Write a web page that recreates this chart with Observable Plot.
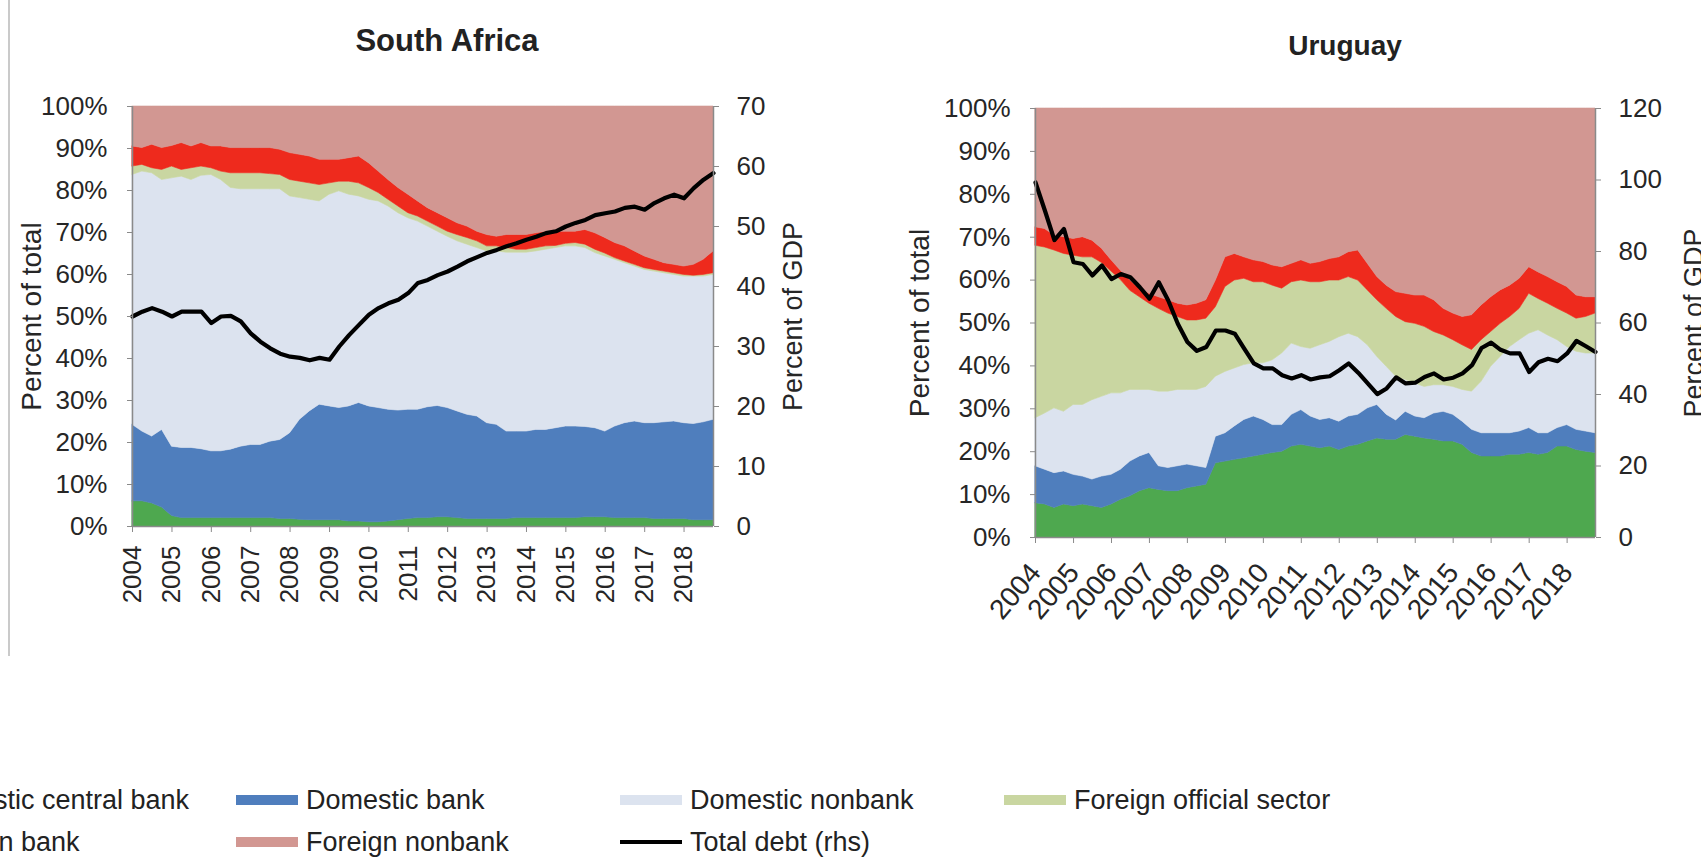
<!DOCTYPE html>
<html>
<head>
<meta charset="utf-8">
<script src="https://cdn.jsdelivr.net/npm/d3@7"></script>
<script src="https://cdn.jsdelivr.net/npm/@observablehq/plot@0.6"></script>
<style>
  html, body { margin: 0; padding: 0; background: #fff; }
  body {
    width: 1701px; height: 858px; overflow: hidden; position: relative;
    font-family: "Liberation Sans", Arial, sans-serif; color: #262626;
  }
  .panel { position: absolute; top: 0; height: 660px; }
  .title {
    position: absolute; font-weight: bold; line-height: 1;
    white-space: nowrap; transform: translateX(-50%); color: #222;
  }
  .edge { position: absolute; left: 8px; top: 0; width: 2px; height: 656px; background: #cacaca; }
  .legend-item {
    position: absolute; display: flex; align-items: center; height: 30px;
    font-size: 27px; line-height: 30px; white-space: nowrap; color: #222;
  }
  .swatch { width: 62px; height: 10px; margin-right: 8px; flex: none; }
  .swatch.line { height: 4px; }
</style>
</head>
<body>
<div class="edge"></div>
<div id="sa" class="panel" style="left:0;width:850px"></div>
<div id="uy" class="panel" style="left:850px;width:851px"></div>
<div class="title" style="left:447px;top:25px;font-size:31px">South Africa</div>
<div class="title" style="left:1345px;top:32px;font-size:28px">Uruguay</div>
<div id="legend"></div>
<script>
// Holders of government debt, quarterly shares of the total (percent), 2004Q1–2018Q4
const sectors = ["Domestic central bank", "Domestic bank", "Domestic nonbank",
                 "Foreign official sector", "Foreign bank", "Foreign nonbank"];
const sectorColors = ["#4EA84F", "#4F7EBD", "#DCE3EF", "#C9D6A1", "#EE2A1D", "#D29792"];

const yearTicks = [2004, 2005, 2006, 2007, 2008, 2009, 2010, 2011, 2012, 2013, 2014, 2015, 2016, 2017, 2018];
const pctTicks = [0, 10, 20, 30, 40, 50, 60, 70, 80, 90, 100];

// South Africa
const saCentralBank = [6,6,5.5,4.5, 2.5,2,2,2, 2,2,2,2, 2,2,2,1.8, 1.8,1.6,1.5,1.5, 1.5,1.5,1.2,1.2, 1,1,1.2,1.5, 1.8,2,2,2.2, 2.2,2,1.8,1.8, 1.8,1.8,1.8,2, 2,2,2,2, 2,2,2.2,2.2, 2.2,2,2,2, 2,1.8,1.8,1.8, 1.8,1.5,1.5,1.5];
const saDomesticBank = [18.2,16.6,15.9,18.5, 16.5,16.7,16.7,16.4, 15.9,15.9,16.3,17, 17.4,17.4,18.2,18.8, 20.4,23.8,25.9,27.5, 27.1,26.7,27.4,28.2, 27.6,27.2,26.6,26.1, 26,25.8,26.4,26.5, 26,25.4,24.8,24.4, 22.8,22.4,20.8,20.6, 20.6,21,21,21.4, 21.8,21.8,21.5,21.2, 20.4,21.8,22.6,23, 22.6,22.8,23,23.2, 22.8,22.9,23.3,23.9];
const saDomesticNonbank = [59.5,61.9,62.7,59.5, 63.9,64.6,63.8,65.1, 65.8,64.6,62.3,61.3, 60.9,60.9,60.1,59.7, 56.4,52.8,50.4,48.4, 50.4,51.6,50.4,49.2, 49.2,49.2,48.4,47, 45.6,44.8,43,41.5, 40.8,40.5,40.5,40.1, 40.9,41.3,42.6,42.6, 42.6,42.5,42.9,42.9, 42.9,42.9,42.6,41.7, 41.7,39.7,38.1,36.9, 36.5,36.1,35.5,34.9, 34.9,35.1,34.7,34.5];
const saForeignOfficial = [2,1.6,1.2,2.4, 2.8,1.6,2.8,2.2, 1.6,2,3.5,3.8, 3.8,3.8,3.6,3.4, 3.9,3.9,3.9,3.9, 2.7,2.3,3.1,3.1, 2.8,2,1.6,1.6, 1.2,1.2,1.2,1.2, 1.2,1.5,1.6,1.6, 1.2,1.2,1.1,0.7, 0.7,0.8,0.8,0.5, 0.6,0.8,0.8,0.8, 0.7,0.4,0.4,0.4, 0.4,0.4,0.4,0.4, 0.4,0.2,0.4,0.4];
const saForeignBank = [4.8,4,5.6,5.2, 4.9,6.4,5.2,5.6, 5.2,6,6,6, 6,6,6.2,6, 6.4,6.4,6.4,6, 5.6,5.2,5.6,6.4, 5.9,5.1,4.7,4.4, 4.4,3.6,3.2,3.2, 3.2,2.8,2.7,2.3, 2.7,2.3,3.1,3.5, 3.5,3.5,3.5,3.4, 2.9,2.7,3.5,3.9, 3.7,3.6,3.6,3.2, 2.8,2.4,2,2, 2,2.6,3.6,5.2];
const saForeignNonbank = [9.5,9.9,9.1,9.9, 9.4,8.7,9.5,8.7, 9.5,9.5,9.9,9.9, 9.9,9.9,9.9,10.3, 11.1,11.5,11.9,12.7, 12.7,12.7,12.3,11.9, 13.5,15.5,17.5,19.4, 21,22.6,24.2,25.4, 26.6,27.8,28.6,29.8, 30.6,31,30.6,30.6, 30.6,30.2,29.8,29.8, 29.8,29.8,29.4,30.2, 31.3,32.5,33.3,34.5, 35.7,36.5,37.3,37.7, 38.1,37.7,36.5,34.5];
const saTotalDebt = [35,35.8,36.4,35.8, 35,35.8,35.8,35.8, 33.9,35,35.1,34.2, 32.2,30.8,29.7,28.8, 28.3,28.1,27.7,28.1, 27.8,30,31.9,33.6, 35.3,36.4,37.2,37.8, 38.9,40.6,41.1,41.9, 42.5,43.3,44.2,44.9, 45.6,46.1,46.7,47.2, 47.8,48.3,48.9,49.2, 50,50.6,51.1,51.9, 52.2,52.5,53.1,53.3, 52.8,53.9,54.7,55.3, 54.7,56.4,57.8,58.9];
const saGdpTicks = [0, 10, 20, 30, 40, 50, 60, 70];

// Uruguay
const uyCentralBank = [8,7.7,6.9,7.7, 7.3,7.7,7.3,6.9, 7.7,8.8,9.6,10.8, 11.5,11.1,10.8,10.8, 11.5,11.9,12.3,17.3, 17.7,18.1,18.5,18.9, 19.3,19.7,20,21.2, 21.6,21.2,20.8,21.2, 20.4,21.2,21.6,22.4, 23.1,22.8,22.8,23.9, 23.5,23.1,22.8,22.4, 22.4,21.6,19.7,18.9, 18.9,18.9,19.3,19.3, 19.7,19.3,19.7,21.2, 21.2,20.4,20,19.7];
const uyDomesticBank = [8.6,8.1,8.1,7.7, 7.3,6.5,6.2,7.3, 6.9,7,8.1,8.1, 8.2,5.5,5.4,5.8, 5.5,4.7,3.9,6.2, 6.6,7.8,8.9,9.3, 8.1,6.5,6.2,7.4, 8.1,7,6.6,6.6, 6.6,7,7,7.7, 7.8,5.8,4.5,5.4, 4.7,4.7,6.1,6.9, 6.2,5.4,5.4,5.4, 5.4,5.4,5,5.4, 5.8,5,4.6,4.3, 5,4.7,4.7,4.6];
const uyDomesticNonbank = [11.2,13.1,15.1,13.9, 16.3,16.7,18.5,18.6, 19,17.8,16.7,15.5, 14.7,17.4,17.8,17.8, 17.4,17.8,18.9,14, 14.3,13.5,12.8,12.4, 13.2,15.1,16.7,16.6, 14.7,15.8,17.4,17.8, 19.7,19.3,18.1,14.7, 11.2,11.2,10.2,7.4, 7.7,7.3,6.6,6.2, 6.5,7.4,8.9,12, 15.5,17.8,20.1,21.3, 22,24,22.8,20.5, 18.2,18.2,18.2,18.6];
const uyForeignOfficial = [40.2,38.7,36.8,36.8, 34.8,34.4,33.3,31.2, 28.4,26.4,23.1,21.6, 20.1,19.3,18.2,17, 16.2,16.2,15.9,16.2, 19.8,20.5,20.1,18.9, 18.9,17.4,15.1,14.3, 15.5,15.5,14.7,14.3, 13.2,13.2,13.2,12.8, 13.2,13.5,13.9,13.5, 13.9,14,12.4,11.6, 10.9,10.4,9.7,9.7, 8.1,7.7,7,7.3, 9.3,7.3,7.4,7.3, 7.8,7.7,8.5,9.3];
const uyForeignBank = [4.3,4.3,3.5,3.9, 3.9,4.7,3.9,3.3, 2.6,2.2,2.4,2, 2.3,2.7,3.1,3.1, 3.5,3.9,4.3,6.2, 6.9,6.2,5,5.1, 4.7,4.7,5,4.3, 4.7,4.3,4.7,5, 5.4,5.8,7,6.2, 5.4,5.4,5.8,6.6, 6.6,7.3,7.4,6.2, 6.2,6.6,8.1,8.1, 8.1,7.8,7.3,7, 6.2,6.2,6.2,6.2, 6.2,5.4,4.6,3.8];
const uyForeignNonbank = [27.7,28.1,29.6,30, 30.4,30,30.8,32.7, 35.4,37.8,40.1,42, 43.2,44,44.7,45.5, 45.9,45.5,44.7,40.1, 34.7,33.9,34.7,35.4, 35.8,36.6,37,36.2, 35.4,36.2,35.8,35.1, 34.7,33.5,33.1,36.2, 39.3,41.3,42.8,43.2, 43.6,43.6,44.7,46.7, 47.8,48.6,48.2,45.9, 44,42.4,41.3,39.7, 37,38.2,39.3,40.5, 41.6,43.6,44,44];
const uyTotalDebt = [99.3,91.4,83.2,86.3, 77,76.5,73.3,76.1, 72.3,73.7,72.8,70, 66.8,71.4,66.3,59.8, 54.7,52.2,53.3,57.9, 57.9,57,52.8,48.7, 47.3,47.3,45.4,44.5, 45.4,44.2,44.8,45.1, 46.8,48.7,46.1,43.1, 40.1,41.7,44.8,43.1, 43.3,44.9,45.9,44.2, 44.7,45.9,48.2,53, 54.5,52.5,51.5,51.5, 46.3,49,50,49.3, 51.5,55,53.5,51.9];
const uyGdpTicks = [0, 20, 40, 60, 80, 100, 120];

// Quarter start dates for the 60 observations
const quarters = saTotalDebt.map((_, i) => new Date(Date.UTC(2004 + Math.floor(i / 4), (i % 4) * 3, 1)));
const yearDates = yearTicks.map(y => new Date(Date.UTC(y, 0, 1)));
const axisGrey = "#8a8a8a";

function drawPanel(el, cfg) {
  const rows = [];
  cfg.series.forEach((values, s) =>
    values.forEach((v, i) => rows.push({date: quarters[i], sector: sectors[s], value: v})));
  const debtRows = cfg.debt.map((v, i) => ({date: quarters[i], debt: v}));
  const toPct = v => v * 100 / cfg.gdpMax;       // right-hand scale mapped onto 0–100
  const first = quarters[0], last = quarters[quarters.length - 1];

  const chart = Plot.plot({
    width: cfg.width,
    height: 660,
    marginLeft: cfg.marginLeft,
    marginRight: cfg.marginRight,
    marginTop: cfg.marginTop,
    marginBottom: cfg.marginBottom,
    style: {
      background: "transparent", overflow: "visible", fontSize: "26px",
      fontFamily: "Liberation Sans, Arial, sans-serif", color: "#262626"
    },
    x: {type: "utc", domain: [first, last]},
    y: {domain: [0, 100]},
    color: {domain: sectors, range: sectorColors},
    marks: [
      Plot.areaY(rows, {
        x: "date", y: "value", z: "sector", fill: "sector",
        stroke: "sector", strokeWidth: 0.6, order: sectors
      }),
      Plot.lineY(debtRows, {
        x: "date", y: d => toPct(d.debt), stroke: "#000",
        strokeWidth: 4.2, strokeLinejoin: "round"
      }),
      Plot.ruleX([first, last], {stroke: axisGrey, strokeWidth: 1.5}),
      Plot.ruleY([0], {stroke: axisGrey, strokeWidth: 1.5}),
      Plot.axisY(pctTicks, {
        anchor: "left", tickFormat: d => d + "%", tickSize: 5, tickPadding: 20,
        stroke: axisGrey, label: null
      }),
      Plot.axisY(cfg.gdpTicks.map(toPct), {
        anchor: "right", tickFormat: d => String(Math.round(d * cfg.gdpMax / 100)),
        tickSize: 5, tickPadding: 18, stroke: axisGrey, label: null
      }),
      Plot.axisX(yearDates, {
        anchor: "bottom", tickFormat: d => String(d.getUTCFullYear()),
        tickRotate: cfg.rotate, tickSize: 6, tickPadding: cfg.xPadding,
        fontSize: cfg.xFontSize, stroke: axisGrey, label: null
      }),
      // axis titles, centred on the plot height
      Plot.text(["Percent of total"], {
        text: d => d, frameAnchor: "left", textAnchor: "middle", rotate: -90,
        lineAnchor: "top", dx: -cfg.leftLabelOffset, fontSize: 28, fill: "#262626"
      }),
      Plot.text(["Percent of GDP"], {
        text: d => d, frameAnchor: "right", textAnchor: "middle", rotate: -90,
        lineAnchor: "bottom", dx: cfg.rightLabelOffset, fontSize: 27, fill: "#262626"
      })
    ]
  });
  el.appendChild(chart);
}

drawPanel(document.getElementById("sa"), {
  series: [saCentralBank, saDomesticBank, saDomesticNonbank, saForeignOfficial, saForeignBank, saForeignNonbank],
  debt: saTotalDebt, gdpMax: 70, gdpTicks: saGdpTicks,
  width: 850, marginLeft: 132, marginRight: 137, marginTop: 106, marginBottom: 134,
  leftLabelOffset: 111, rightLabelOffset: 88, rotate: -90, xPadding: 13, xFontSize: 26
});

drawPanel(document.getElementById("uy"), {
  series: [uyCentralBank, uyDomesticBank, uyDomesticNonbank, uyForeignOfficial, uyForeignBank, uyForeignNonbank],
  debt: uyTotalDebt, gdpMax: 120, gdpTicks: uyGdpTicks,
  width: 851, marginLeft: 185, marginRight: 106, marginTop: 108, marginBottom: 123,
  leftLabelOffset: 126, rightLabelOffset: 107, rotate: -50, xPadding: 24, xFontSize: 28
});

// Legend: two rows, four columns; the first column starts left of the page edge
const legendItems = [
  {label: "Domestic central bank", color: sectorColors[0], col: 0, row: 0},
  {label: "Domestic bank", color: sectorColors[1], col: 1, row: 0},
  {label: "Domestic nonbank", color: sectorColors[2], col: 2, row: 0},
  {label: "Foreign official sector", color: sectorColors[3], col: 3, row: 0},
  {label: "Foreign bank", color: sectorColors[4], col: 0, row: 1},
  {label: "Foreign nonbank", color: sectorColors[5], col: 1, row: 1},
  {label: "Total debt (rhs)", color: "#000", col: 2, row: 1, line: true}
];
const legend = document.getElementById("legend");
for (const item of legendItems) {
  const div = document.createElement("div");
  div.className = "legend-item";
  div.style.left = (-148 + item.col * 384) + "px";
  div.style.top = (785 + item.row * 42) + "px";
  const sw = document.createElement("span");
  sw.className = "swatch" + (item.line ? " line" : "");
  sw.style.background = item.color;
  const tx = document.createElement("span");
  tx.textContent = item.label;
  div.appendChild(sw);
  div.appendChild(tx);
  legend.appendChild(div);
}
</script>
</body>
</html>
